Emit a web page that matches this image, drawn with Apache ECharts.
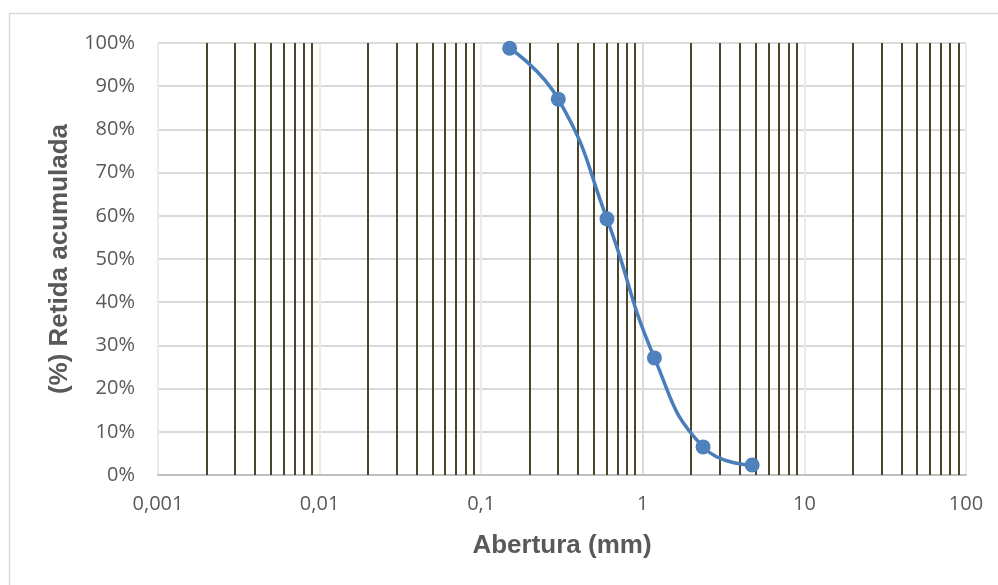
<!DOCTYPE html>
<html>
<head>
<meta charset="utf-8">
<script src="https://cdn.jsdelivr.net/npm/echarts@6/dist/echarts.min.js"></script>
<style>
  html, body { margin: 0; padding: 0; background: #fff; }
  #chart { width: 998px; height: 585px; }
</style>
</head>
<body>
<div id="chart"></div>
<script>
  // abertura das peneiras (mm) e % retida acumulada
  const aberturas = [0.15, 0.3, 0.6, 1.18, 2.36, 4.75];
  const retida = [98.8, 87.0, 59.3, 27.1, 6.5, 2.3];

  // rótulos do eixo x (vírgula decimal)
  const xTickLabels = ['0,001', '0,01', '0,1', '1', '10', '100'];

  // linhas secundárias da grade log (2..9 em cada década)
  const decadas = [0.001, 0.01, 0.1, 1, 10];
  const minorLines = [];
  decadas.forEach(d => {
    for (let k = 2; k <= 9; k++) minorLines.push(+(d * k).toPrecision(3));
  });

  const chart = echarts.init(document.getElementById('chart'));
  const labelFont = '"Open Sans", "Noto Sans", sans-serif';
  const titleFont = '"Liberation Sans", Arial, sans-serif';

  chart.setOption({
    animation: false,
    backgroundColor: '#fff',
    graphic: [{
      type: 'rect',
      shape: { x: 9.5, y: 13.5, width: 1000, height: 600 },
      style: { fill: 'none', stroke: '#d9d9d9', lineWidth: 1.5 },
      silent: true
    }],
    grid: { left: 158, right: 32, top: 43, bottom: 110 },
    xAxis: {
      type: 'log',
      logBase: 10,
      min: 0.001,
      max: 100,
      name: 'Abertura (mm)',
      nameLocation: 'middle',
      nameGap: 58,
      nameTextStyle: { fontFamily: titleFont, fontSize: 26, fontWeight: 'bold', color: '#595959' },
      axisLine: { show: true, lineStyle: { color: '#bfbfbf', width: 2 } },
      axisTick: { show: false },
      axisLabel: {
        fontFamily: labelFont, fontSize: 20, color: '#595959', margin: 19,
        formatter: v => xTickLabels[Math.round(Math.log10(v)) + 3]
      },
      splitLine: {
        show: true,
        lineStyle: { color: ['#eeece1', '#eeece1', '#eeece1', '#d9d9d9', '#eeece1', '#eeece1'], width: 2 }
      }
    },
    yAxis: {
      type: 'value',
      min: 0,
      max: 100,
      interval: 10,
      name: '(%) Retida acumulada',
      nameLocation: 'middle',
      nameGap: 83,
      nameTextStyle: { fontFamily: titleFont, fontSize: 26, fontWeight: 'bold', color: '#595959' },
      axisLine: { show: false },
      axisTick: { show: false },
      axisLabel: { fontFamily: labelFont, fontSize: 20, color: '#595959', margin: 23, formatter: '{value}%' },
      splitLine: { show: true, lineStyle: { color: '#d9d9d9', width: 2 } }
    },
    series: [
      {
        name: 'grade',
        type: 'custom',
        z: 1,
        silent: true,
        data: minorLines.map(v => [v]),
        encode: { x: 0 },
        renderItem: (params, api) => {
          const v = api.value(0);
          const p0 = api.coord([v, 0]);
          const p1 = api.coord([v, 100]);
          return {
            type: 'line',
            shape: { x1: Math.round(p0[0]), y1: p0[1], x2: Math.round(p1[0]), y2: p1[1] },
            style: { stroke: '#4a452a', lineWidth: 2 }
          };
        }
      },
      {
        name: 'Retida',
        type: 'line',
        z: 5,
        smooth: 0.5,
        data: aberturas.map((x, i) => [x, retida[i]]),
        symbol: 'circle',
        symbolSize: 15,
        lineStyle: { color: '#4a7ebb', width: 3.5 },
        itemStyle: { color: '#4f81bd' }
      }
    ]
  });
</script>
</body>
</html>
